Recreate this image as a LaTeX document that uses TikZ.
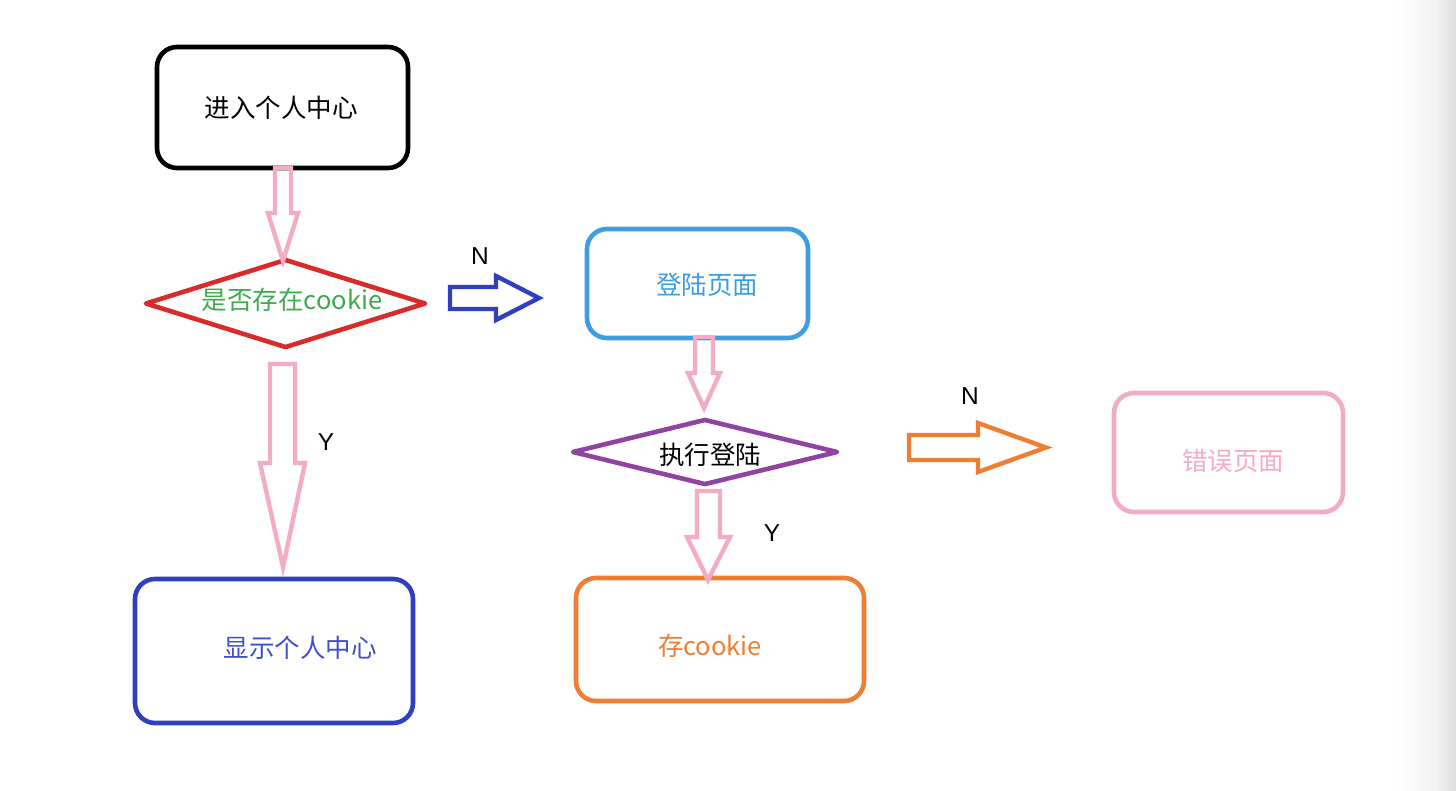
\documentclass[tikz,border=0pt]{standalone}
\usepackage{fontspec}
\setmainfont{Noto Sans CJK SC}
\newfontfamily\latinf{Liberation Sans}
\usetikzlibrary{shapes.geometric}
\definecolor{cpink}{HTML}{F2ACC5}
\definecolor{cred}{HTML}{D92B2B}
\definecolor{cgreen}{HTML}{3EAA4E}
\definecolor{cblue}{HTML}{2F3FC0}
\definecolor{ctblue}{HTML}{4050C8}
\definecolor{clblue}{HTML}{3C9DE0}
\definecolor{cpurple}{HTML}{8E44A0}
\definecolor{corange}{HTML}{EE7F32}
\begin{document}
\begin{tikzpicture}[x=1pt,y=-1pt,
  box/.style={draw, line width=4.6pt, rounded corners=20pt, inner sep=0pt},
  dia/.style={draw, diamond, line width=4.6pt, line join=round, inner sep=0pt},
  lbl/.style={font=\fontsize{25.5}{30}\selectfont, inner sep=0pt},
  yn/.style={font=\latinf\fontsize{24.5}{29}\selectfont, inner sep=0pt},
  barrow/.style={line width=4.4pt, line join=miter}]
\useasboundingbox (0,0) rectangle (1456,790);
\fill[white] (0,0) rectangle (1456,790);
\shade[left color=white, right color=black!5] (1395,0) rectangle (1436,790);
\shade[left color=black!5, right color=black!13] (1435.5,0) rectangle (1456,790);

% boxes
\node[box, draw=black, minimum width=251pt, minimum height=121pt] (b1) at (282.5,107.5) {};
\node[box, draw=cblue, minimum width=278pt, minimum height=144pt] (b2) at (274,651) {};
\node[box, draw=clblue, minimum width=221pt, minimum height=109pt] (b3) at (697.5,283.5) {};
\node[box, draw=corange, minimum width=288pt, minimum height=123pt] (b4) at (720,639.5) {};
\node[box, draw=cpink, minimum width=229pt, minimum height=119pt] (b5) at (1228.5,452.5) {};

% diamonds
\node[dia, draw=cred, minimum width=281pt, minimum height=89pt] (d1) at (285.5,303.5) {};
\node[dia, draw=cpurple, minimum width=266pt, minimum height=66pt] (d2) at (705,452) {};

% texts
\node[lbl, text=black] (t1) at (281,108) {进入个人中心};
\node[lbl, text=cgreen] (t2) at (292,300) {是否存在cookie};
\node[lbl, text=ctblue] (t3) at (300,648) {显示个人中心};
\node[lbl, text=clblue] (t4) at (707,285) {登陆页面};
\node[lbl, text=black] (t5) at (710,455) {执行登陆};
\node[lbl, text=corange] (t6) at (710,646) {存cookie};
\node[lbl, text=cpink] (t7) at (1233,461) {错误页面};

% Y / N labels
\node[yn] (n1) at (480,256) {N};
\node[yn] (y1) at (326,442) {Y};
\node[yn] (y2) at (772,533) {Y};
\node[yn] (n2) at (970,396) {N};

% block arrows
% b1 -> d1
\draw[barrow, draw=cpink] (275,168) -- (291,168) -- (291,213) -- (298,213) -- (283,261) -- (268,213) -- (275,213) -- cycle;
% d1 -> b2 (Y)
\draw[barrow, draw=cpink] (270,364) -- (295,364) -- (295,463) -- (305,463) -- (283,567) -- (260,463) -- (270,463) -- cycle;
% d1 -> b3 (N)
\draw[barrow, draw=cblue] (450,287) -- (496,287) -- (496,276) -- (539,298) -- (496,320) -- (496,309) -- (450,309) -- cycle;
% b3 -> d2
\draw[barrow, draw=cpink] (695,337) -- (713,337) -- (713,373) -- (720,373) -- (704,408) -- (688,373) -- (695,373) -- cycle;
% d2 -> b4 (Y)
\draw[barrow, draw=cpink] (697,491) -- (720,491) -- (720,537) -- (730,537) -- (708,580) -- (687,537) -- (697,537) -- cycle;
% d2 -> b5 (N)
\draw[barrow, draw=corange] (909,435) -- (978,435) -- (978,423) -- (1046,447.5) -- (978,472) -- (978,460) -- (909,460) -- cycle;
\end{tikzpicture}
\end{document}
